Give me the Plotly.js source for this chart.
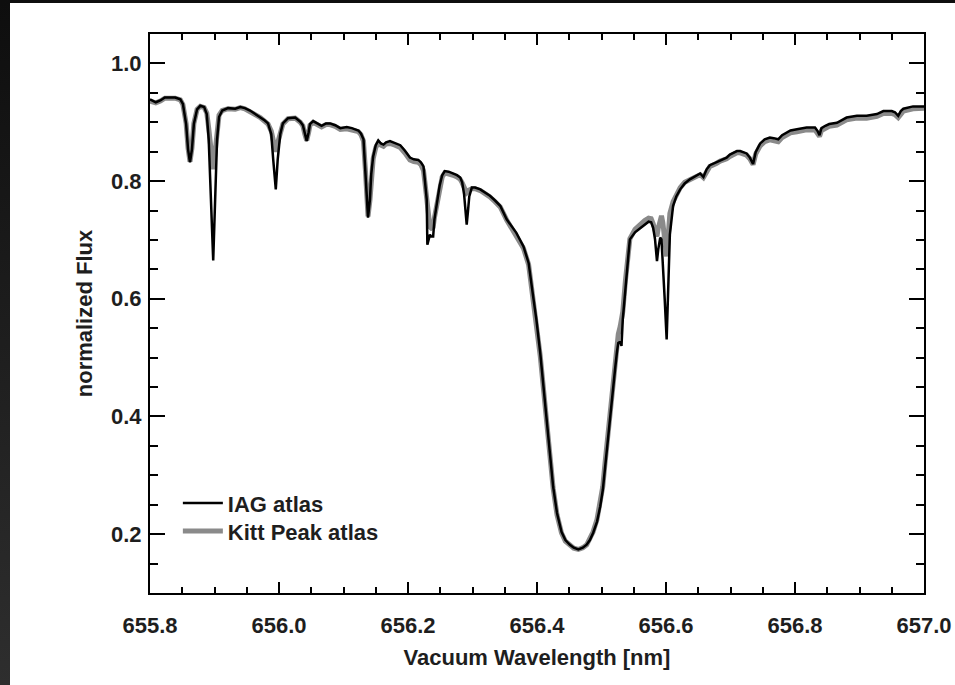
<!DOCTYPE html>
<html><head><meta charset="utf-8">
<script src="https://cdn.plot.ly/plotly-3.0.1.min.js"></script>
<style>
html,body{margin:0;padding:0;width:955px;height:685px;overflow:hidden;background:linear-gradient(to bottom,#0e0e0e,#2e2e2e);}
#chart{position:absolute;left:10px;top:3px;width:945px;height:682px;background:#fff;}
</style></head><body><div id="chart"></div>
<script>
const wavelength = [655.800,655.805,655.809,655.816,655.823,655.839,655.847,655.851,655.856,655.859,655.862,655.865,655.868,655.873,655.878,655.884,655.888,655.891,655.894,655.898,655.901,655.904,655.907,655.912,655.921,655.932,655.940,655.947,655.955,655.963,655.971,655.978,655.983,655.988,655.991,655.995,655.998,656.002,656.006,656.014,656.025,656.033,656.037,656.040,656.043,656.046,656.048,656.053,656.059,656.066,656.073,656.079,656.087,656.095,656.105,656.113,656.123,656.127,656.131,656.134,656.136,656.138,656.141,656.143,656.146,656.150,656.154,656.158,656.162,656.166,656.172,656.180,656.188,656.195,656.203,656.209,656.216,656.220,656.224,656.226,656.229,656.230,656.232,656.234,656.236,656.239,656.241,656.244,656.249,656.253,656.257,656.263,656.270,656.276,656.281,656.284,656.287,656.289,656.291,656.293,656.295,656.299,656.304,656.312,656.319,656.327,656.335,656.343,656.353,656.358,656.368,656.379,656.387,656.394,656.399,656.405,656.410,656.415,656.420,656.425,656.431,656.438,656.444,656.451,656.457,656.464,656.471,656.477,656.482,656.487,656.493,656.498,656.502,656.505,656.510,656.516,656.521,656.524,656.526,656.529,656.531,656.533,656.537,656.542,656.544,656.552,656.560,656.567,656.573,656.577,656.580,656.583,656.586,656.588,656.591,656.593,656.595,656.598,656.601,656.603,656.605,656.606,656.611,656.616,656.622,656.629,656.637,656.645,656.653,656.658,656.663,656.668,656.678,656.684,656.694,656.699,656.710,656.715,656.725,656.730,656.735,656.739,656.746,656.753,656.761,656.767,656.774,656.780,656.787,656.793,656.803,656.818,656.831,656.835,656.838,656.841,656.847,656.853,656.865,656.880,656.896,656.911,656.927,656.937,656.950,656.955,656.960,656.964,656.968,656.983,657.000];

const fluxIAG = [0.939,0.936,0.934,0.937,0.942,0.942,0.939,0.931,0.897,0.854,0.832,0.854,0.897,0.922,0.928,0.926,0.914,0.871,0.769,0.665,0.769,0.871,0.909,0.920,0.924,0.923,0.926,0.924,0.920,0.914,0.909,0.903,0.898,0.880,0.837,0.786,0.837,0.880,0.898,0.907,0.908,0.901,0.895,0.880,0.868,0.883,0.897,0.902,0.898,0.894,0.898,0.898,0.895,0.890,0.892,0.890,0.886,0.881,0.871,0.820,0.769,0.738,0.769,0.812,0.842,0.861,0.869,0.864,0.862,0.866,0.868,0.865,0.861,0.852,0.840,0.837,0.836,0.832,0.825,0.803,0.769,0.692,0.704,0.709,0.706,0.706,0.735,0.758,0.792,0.810,0.817,0.816,0.813,0.810,0.806,0.798,0.777,0.752,0.726,0.749,0.774,0.789,0.789,0.786,0.781,0.775,0.767,0.758,0.735,0.728,0.712,0.689,0.661,0.604,0.565,0.508,0.451,0.394,0.338,0.281,0.236,0.204,0.190,0.182,0.177,0.174,0.177,0.182,0.190,0.202,0.221,0.247,0.275,0.309,0.366,0.423,0.480,0.510,0.525,0.527,0.520,0.565,0.621,0.678,0.701,0.713,0.720,0.726,0.731,0.730,0.721,0.701,0.664,0.684,0.704,0.701,0.667,0.599,0.531,0.599,0.667,0.709,0.758,0.774,0.786,0.796,0.803,0.808,0.813,0.807,0.820,0.827,0.832,0.836,0.840,0.845,0.851,0.851,0.847,0.840,0.829,0.849,0.864,0.871,0.874,0.873,0.871,0.878,0.882,0.886,0.888,0.891,0.891,0.885,0.878,0.890,0.894,0.897,0.899,0.908,0.911,0.911,0.914,0.919,0.919,0.917,0.911,0.919,0.923,0.927,0.927];

const fluxKittPeak = [0.936,0.934,0.933,0.936,0.941,0.941,0.938,0.930,0.898,0.856,0.833,0.856,0.898,0.922,0.927,0.925,0.916,0.890,0.850,0.820,0.850,0.890,0.912,0.920,0.923,0.922,0.925,0.923,0.919,0.913,0.908,0.902,0.897,0.885,0.865,0.850,0.865,0.885,0.897,0.906,0.907,0.900,0.894,0.880,0.869,0.883,0.895,0.900,0.896,0.892,0.896,0.896,0.893,0.888,0.889,0.887,0.884,0.879,0.868,0.818,0.768,0.740,0.768,0.810,0.838,0.857,0.865,0.861,0.859,0.863,0.864,0.861,0.857,0.848,0.836,0.833,0.832,0.828,0.818,0.800,0.770,0.745,0.730,0.722,0.720,0.722,0.738,0.758,0.790,0.807,0.814,0.813,0.810,0.807,0.803,0.797,0.788,0.782,0.780,0.782,0.785,0.787,0.787,0.784,0.779,0.773,0.765,0.756,0.734,0.725,0.709,0.686,0.658,0.600,0.560,0.503,0.447,0.390,0.334,0.278,0.233,0.202,0.188,0.180,0.176,0.174,0.177,0.182,0.191,0.204,0.225,0.252,0.281,0.316,0.374,0.432,0.492,0.525,0.540,0.553,0.565,0.578,0.630,0.684,0.702,0.718,0.727,0.733,0.737,0.736,0.728,0.716,0.706,0.720,0.738,0.741,0.730,0.700,0.672,0.700,0.730,0.745,0.765,0.778,0.789,0.798,0.803,0.807,0.811,0.806,0.818,0.825,0.830,0.834,0.838,0.842,0.848,0.848,0.844,0.838,0.828,0.846,0.860,0.867,0.870,0.869,0.867,0.874,0.878,0.882,0.884,0.887,0.887,0.882,0.876,0.886,0.890,0.893,0.895,0.904,0.907,0.907,0.910,0.915,0.915,0.913,0.908,0.915,0.919,0.923,0.924];

const seriesNames = ['IAG atlas', 'Kitt Peak atlas'];
const xTicks = [655.8, 656.0, 656.2, 656.4, 656.6, 656.8, 657.0];
const yTicks = [0.2, 0.4, 0.6, 0.8, 1.0];

const font = {family: '"Liberation Sans", Arial, sans-serif', size: 22, weight: 'bold', color: '#1e1e1e'};

const traces = [
  {x: wavelength, y: fluxKittPeak, name: seriesNames[1], type: 'scatter', mode: 'lines',
   legend: 'legend2', line: {color: '#8a8a8a', width: 5}},
  {x: wavelength, y: fluxIAG, name: seriesNames[0], type: 'scatter', mode: 'lines',
   legend: 'legend', line: {color: '#000000', width: 2.5}}
];

const axisCommon = {
  showline: true, linecolor: '#000', linewidth: 2, mirror: 'ticks',
  ticks: 'inside', tickcolor: '#000', tickwidth: 2,
  showgrid: false, zeroline: false, tickfont: font, tickformat: '.1f'
};

const legendCommon = {xanchor: 'left', yanchor: 'middle', itemwidth: 40,
  bgcolor: 'rgba(0,0,0,0)', borderwidth: 0, font: font};

const layout = {
  width: 945, height: 682,
  margin: {l: 140, r: 31, t: 31, b: 92},
  paper_bgcolor: '#fff', plot_bgcolor: '#fff',
  font: font,
  showlegend: true,
  legend: Object.assign({}, legendCommon, {x: 0.036, y: 0.1605}),
  legend2: Object.assign({}, legendCommon, {x: 0.036, y: 0.1104}),
  xaxis: Object.assign({}, axisCommon, {
    range: [655.8, 657.0], tickvals: xTicks, ticklen: 11,
    minor: {dtick: 0.05, tick0: 655.8, ticks: 'inside', ticklen: 6, tickwidth: 2, tickcolor: '#000'},
    ticklabelstandoff: 12,
    title: {text: 'Vacuum Wavelength [nm]', font: font, standoff: 12}
  }),
  yaxis: Object.assign({}, axisCommon, {
    range: [0.1, 1.05], tickvals: yTicks, ticklen: 15,
    minor: {dtick: 0.05, tick0: 0.1, ticks: 'inside', ticklen: 8, tickwidth: 2, tickcolor: '#000'},
    ticklabelstandoff: 2,
    title: {text: 'normalized Flux', font: font, standoff: 12}
  })
};

Plotly.newPlot('chart', traces, layout, {displayModeBar: false, staticPlot: true});
</script></body></html>
